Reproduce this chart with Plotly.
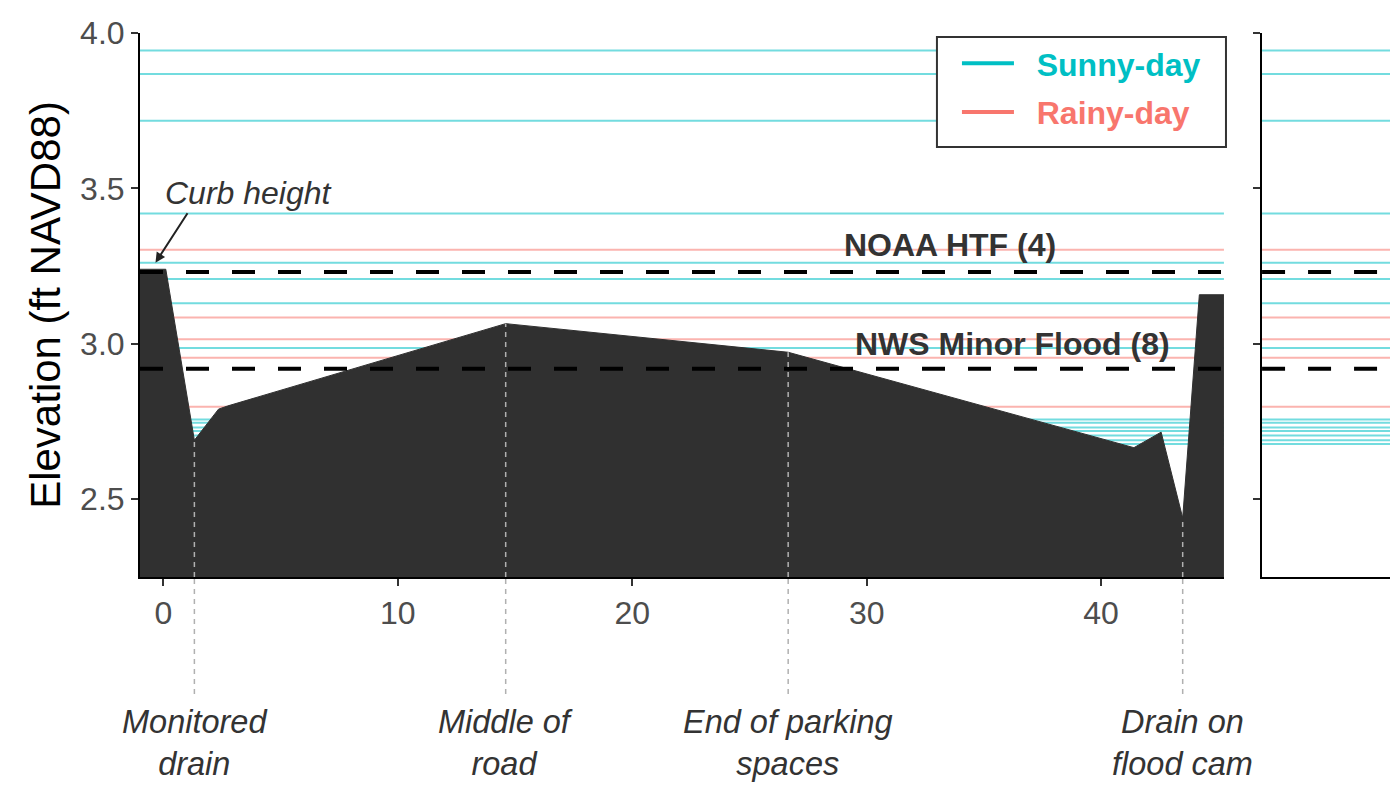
import numpy as np
import plotly.graph_objects as go

# ---- data -----------------------------------------------------------------
profile_x = [-1.0, 0.1, 1.32, 2.35, 2.73, 14.6, 26.65, 41.4, 42.56, 43.48, 44.19, 45.24]
profile_y = [3.24, 3.24, 2.69, 2.79, 2.80, 3.065, 2.973, 2.666, 2.716, 2.44, 3.158, 3.158]

sunny_levels = [3.944, 3.868, 3.718, 3.419, 3.261, 3.209, 3.131, 2.987,
                2.757, 2.746, 2.731, 2.720, 2.705, 2.690, 2.678]
rainy_levels = [3.303, 3.085, 3.015, 2.955, 2.798]

threshold_names = ["NOAA HTF (4)", "NWS Minor Flood (8)"]
threshold_levels = [3.231, 2.920]
threshold_label_x = [33.56, 36.2]
threshold_label_y = [3.319, 2.998]

landmark_names = ["Monitored<br>drain", "Middle of<br>road",
                  "End of parking<br>spaces", "Drain on<br>flood cam"]
landmark_x = [1.32, 14.6, 26.65, 43.48]

x_ticks = [0, 10, 20, 30, 40]
y_ticks = [2.5, 3.0, 3.5, 4.0]
y_range = [2.25, 4.0]

SUNNY = "#00BFC4"
RAINY = "#F8766D"
FONT = "Liberation Sans, Arial, sans-serif"

# ---- helpers ----------------------------------------------------------------
def hlines(levels, x0, x1):
    xs, ys = [], []
    for v in levels:
        xs += [x0, x1, None]
        ys += [v, v, None]
    return xs, ys

fig = go.Figure()
xmin, xmax = profile_x[0], profile_x[-1]

for levels, col in [(sunny_levels, "rgba(0,191,196,0.55)"), (rainy_levels, "rgba(248,118,109,0.55)")]:
    xs, ys = hlines(levels, xmin, xmax)
    fig.add_trace(go.Scatter(x=xs, y=ys, mode="lines", line=dict(color=col, width=2),
                             showlegend=False, hoverinfo="skip", xaxis="x", yaxis="y"))
    xs2, ys2 = hlines(levels, 0, 1)
    fig.add_trace(go.Scatter(x=xs2, y=ys2, mode="lines", line=dict(color=col, width=2),
                             showlegend=False, hoverinfo="skip", xaxis="x2", yaxis="y2"))

# road profile
fig.add_trace(go.Scatter(x=profile_x, y=profile_y, mode="lines", fill="tozeroy",
                         fillcolor="#303030", line=dict(color="#303030", width=1),
                         showlegend=False, hoverinfo="skip", xaxis="x", yaxis="y"))

# thresholds
xs, ys = hlines(threshold_levels, xmin, xmax)
fig.add_trace(go.Scatter(x=xs, y=ys, mode="lines", line=dict(color="black", width=4, dash="23px,23px"),
                         showlegend=False, hoverinfo="skip", xaxis="x", yaxis="y"))
xs, ys = hlines(threshold_levels, 0, 1)
fig.add_trace(go.Scatter(x=xs, y=ys, mode="lines", line=dict(color="black", width=4, dash="23px,23px"),
                         showlegend=False, hoverinfo="skip", xaxis="x2", yaxis="y2"))

# legend entries
fig.add_trace(go.Scatter(x=[None], y=[None], mode="lines", line=dict(color=SUNNY, width=4),
                         name="\u00a0\u00a0<span style='color:%s'><b>Sunny-day</b></span>" % SUNNY,
                         legendgroup="sunny", xaxis="x", yaxis="y"))
fig.add_trace(go.Scatter(x=[None], y=[None], mode="lines", line=dict(color=RAINY, width=4),
                         name="\u00a0\u00a0<span style='color:%s'><b>Rainy-day</b></span>" % RAINY,
                         legendgroup="rainy", xaxis="x", yaxis="y"))

# vertical landmark lines and labels
landmark_top = np.interp(landmark_x, profile_x, profile_y)
shapes = []
annotations = []
for name, lx, top in zip(landmark_names, landmark_x, landmark_top):
    shapes.append(dict(type="line", xref="x", yref="y", x0=lx, x1=lx, y0=y_range[0], y1=float(top),
                       line=dict(color="#b0b0b0", width=1.5, dash="5px,5px"), layer="above"))
    shapes.append(dict(type="line", xref="x", yref="paper", x0=lx, x1=lx, y0=-0.215, y1=0,
                       line=dict(color="#b0b0b0", width=1.5, dash="5px,5px"), layer="above"))
    annotations.append(dict(x=lx, y=-0.305, xref="x", yref="paper", text="<i>%s</i>" % name,
                            showarrow=False, xanchor="center", yanchor="middle",
                            font=dict(family=FONT, size=32.5, color="#333333")))

for name, tx, ty in zip(threshold_names, threshold_label_x, threshold_label_y):
    annotations.append(dict(x=tx, y=ty, xref="x", yref="y", text="<b>%s</b>" % name,
                            showarrow=False, xanchor="center", yanchor="middle",
                            font=dict(family=FONT, size=32, color="#333333")))

# curb height label + arrow
annotations.append(dict(x=0.0, y=3.486, xref="x", yref="y", text="<i>Curb height</i>",
                        showarrow=False, xanchor="left", yanchor="middle",
                        font=dict(family=FONT, size=32, color="#333333")))
annotations.append(dict(x=-0.34, y=3.261, xref="x", yref="y", text="", showarrow=True,
                        ax=33, ay=-51, arrowhead=2, arrowsize=1, arrowwidth=2,
                        arrowcolor="#222222", standoff=0))

# legend frame
shapes.append(dict(type="rect", xref="paper", yref="paper", x0=0.6295, x1=0.8578,
                   y0=0.7904, y1=0.9927, fillcolor="white",
                   line=dict(color="#333333", width=2), layer="above"))

axis_common = dict(showgrid=False, zeroline=False, showline=True, linecolor="black", linewidth=2,
                   ticks="outside", ticklen=7, tickwidth=2, tickcolor="#333333",
                   tickfont=dict(family=FONT, size=32, color="#4d4d4d"))

fig.update_layout(
    width=1398, height=799,
    margin=dict(l=132, r=0, t=25, b=230),
    paper_bgcolor="white", plot_bgcolor="white",
    font=dict(family=FONT),
    xaxis=dict(domain=[0, 0.8562], range=[xmin, xmax], tickvals=x_ticks, anchor="y", **axis_common),
    yaxis=dict(domain=[0, 1], range=y_range, tickvals=y_ticks, tickformat=".1f", anchor="x",
               title=dict(text="Elevation (ft NAVD88)", standoff=6,
                          font=dict(family=FONT, size=42, color="black")),
               **axis_common),
    xaxis2=dict(domain=[0.8863, 1.0], range=[0, 1], anchor="y2", showgrid=False, zeroline=False,
                showline=True, linecolor="black", linewidth=2, showticklabels=False, ticks=""),
    yaxis2=dict(domain=[0, 1], range=y_range, tickvals=y_ticks, anchor="x2", showticklabels=False,
                showgrid=False, zeroline=False, showline=True, linecolor="black", linewidth=2,
                ticks="outside", ticklen=7, tickwidth=2, tickcolor="#333333"),
    legend=dict(x=0.6453, y=0.9945, xanchor="left", yanchor="top",
                bgcolor="rgba(0,0,0,0)", borderwidth=0, tracegroupgap=4,
                font=dict(family=FONT, size=32), itemwidth=52),
    shapes=shapes,
    annotations=annotations,
)

fig.write_html("out.html")
